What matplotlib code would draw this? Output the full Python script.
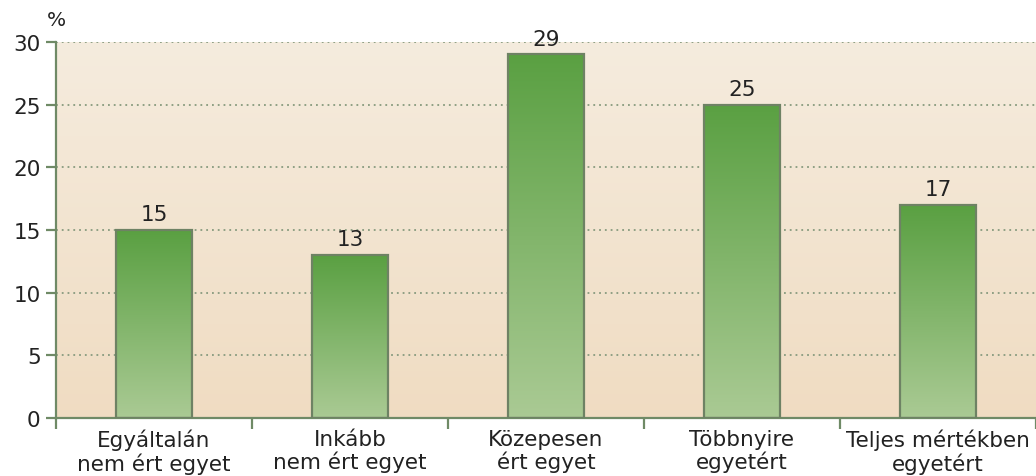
import matplotlib.pyplot as plt
import numpy as np

plt.rcParams['font.family'] = ['DejaVu Sans']

categories = ["Egyáltalán\nnem ért egyet", "Inkább\nnem ért egyet", "Közepesen\nért egyet",
              "Többnyire\negyetért", "Teljes mértékben\negyetért"]
values = [15, 13, 29, 25, 17]
yticks = [0, 5, 10, 15, 20, 25, 30]

line_col = "#6f8a66"
txt_col = "#222222"
fs = 15.5

fig = plt.figure(figsize=(10.36, 4.77), dpi=100)
ax = fig.add_axes([0.054, 0.122, 0.946, 0.788])

x = np.arange(len(categories))
ax.set_xlim(-0.5, len(categories) - 0.5)
ax.set_ylim(0, 30)

# background gradient of the plot area
bg = np.linspace(0, 1, 256).reshape(-1, 1)
top_c = np.array([245, 236, 222]) / 255
bot_c = np.array([240, 220, 194]) / 255
bg_img = top_c + (bot_c - top_c) * bg[:, :, None]
ax.imshow(bg_img, extent=[-0.5, len(categories) - 0.5, 0, 30], aspect='auto', zorder=0, origin='upper')

for t in yticks[1:]:
    ax.axhline(t, color="#879a7e", linestyle=(0, (1, 2.2)), linewidth=1.3, zorder=1)

bars = ax.bar(x, values, width=0.39, color='none', edgecolor="#6e8264", linewidth=1.6, zorder=3)

g_top = np.array([90, 160, 66]) / 255
g_bot = np.array([170, 202, 148]) / 255
for b, v in zip(bars, values):
    img = g_top + (g_bot - g_top) * bg[:, :, None]
    im = ax.imshow(img, extent=[b.get_x(), b.get_x() + b.get_width(), 0, v], aspect='auto', zorder=2, origin='upper')
    im.set_clip_path(b)
    ax.text(b.get_x() + b.get_width() / 2, v + 0.45, str(v), ha='center', va='bottom', fontsize=fs, color=txt_col)

ax.set_xlim(-0.5, len(categories) - 0.5)
ax.set_ylim(0, 30)

for s in ['top', 'right']:
    ax.spines[s].set_visible(False)
for s in ['left', 'bottom']:
    ax.spines[s].set_color(line_col)
    ax.spines[s].set_linewidth(1.6)

ax.set_yticks(yticks)
ax.set_yticklabels([str(t) for t in yticks], fontsize=fs, color=txt_col)
ax.tick_params(axis='y', length=7, width=1.6, color=line_col, pad=4)

ax.set_xticks(np.arange(len(categories) + 1) - 0.5, minor=False)
ax.set_xticklabels([])
ax.tick_params(axis='x', length=8, width=1.6, color=line_col)
ax.set_xticks(x, minor=True)
ax.set_xticklabels(categories, minor=True, fontsize=fs, color=txt_col, linespacing=1.1)
ax.tick_params(axis='x', which='minor', length=0, pad=8)

ax.text(0.0, 1.035, "%", transform=ax.transAxes, ha='center', va='bottom', fontsize=fs - 1, color=txt_col)

fig.savefig("out.png", dpi=100)
